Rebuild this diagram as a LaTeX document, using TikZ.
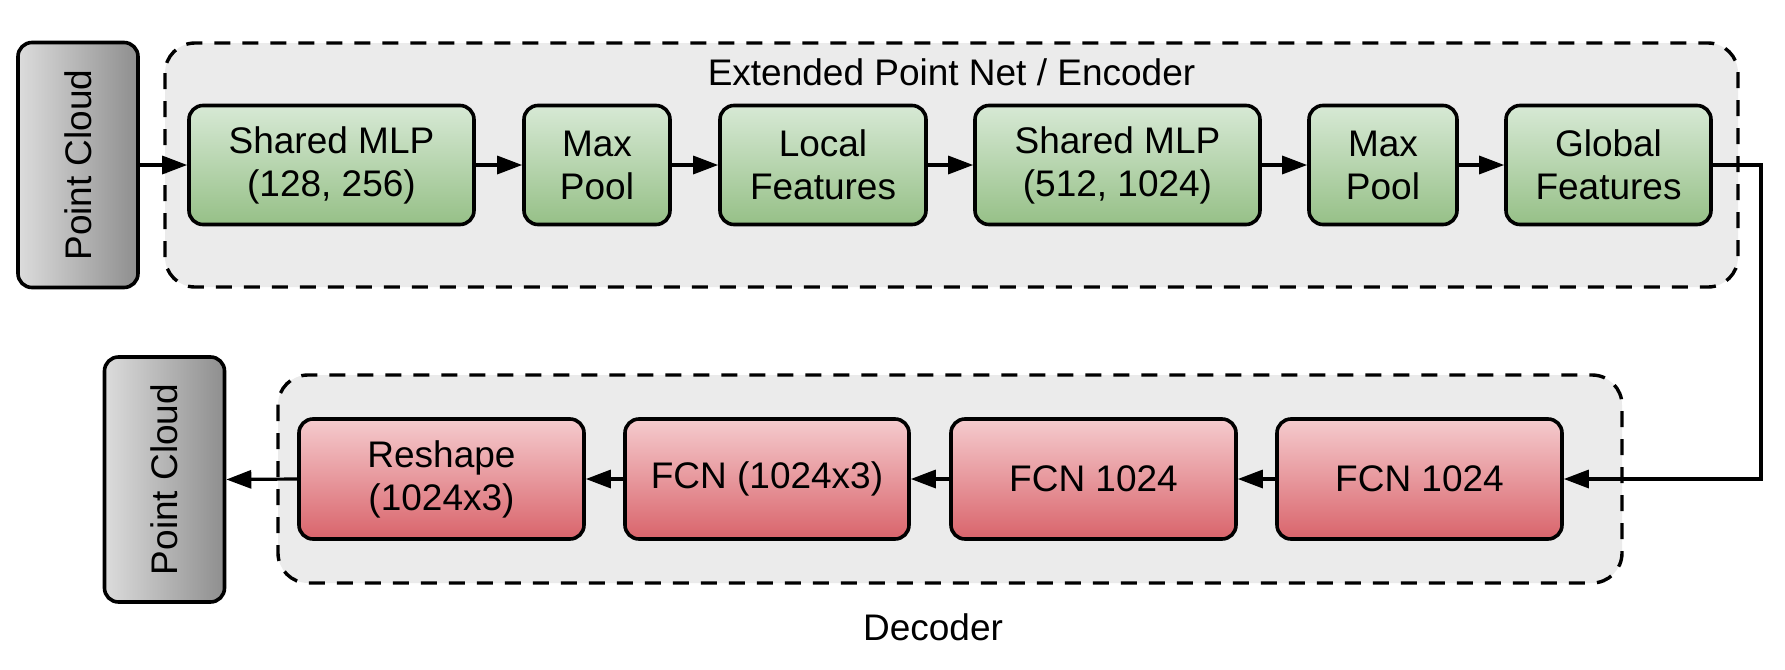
\documentclass[tikz,border=0pt]{standalone}
\usepackage{fontspec}
\setmainfont{Liberation Sans}
\usetikzlibrary{arrows.meta}
\definecolor{gtop}{HTML}{D7E9D5}
\definecolor{gbot}{HTML}{96C087}
\definecolor{rtop}{HTML}{F5CBCE}
\definecolor{rbot}{HTML}{D9646B}
\definecolor{pleft}{HTML}{DCDCDC}
\definecolor{pright}{HTML}{8E8E8E}
\definecolor{grpfill}{HTML}{EBEBEB}
\begin{document}
\begin{tikzpicture}[x=0.5pt,y=-0.5pt,
  txt/.style={font=\fontsize{18.5pt}{21.5pt}\selectfont, text=black},
  box/.style={txt, draw=black, line width=1.8pt, rounded corners=7pt, align=center,
    minimum height=59.5pt, inner sep=0pt},
  gbox/.style={box, top color=gtop, bottom color=gbot},
  rbox/.style={box, top color=rtop, bottom color=rbot, minimum height=60pt},
  pcbox/.style={draw=black, line width=1.8pt, rounded corners=7pt, left color=pleft,
    right color=pright, minimum width=60pt, minimum height=122.5pt, inner sep=0pt},
  grp/.style={draw=black, fill=grpfill, line width=1.7pt, dash pattern=on 8pt off 6pt,
    rounded corners=15pt},
  arr/.style={draw=black, line width=1.6pt, -{Triangle[length=12.5pt,width=9pt]}},
]
\useasboundingbox (0,0) rectangle (1785,670);
% groups
\draw[grp] (165,43) rectangle (1738,287);
\draw[grp] (278,375) rectangle (1622,583);
\node[txt, anchor=base] (enclabel) at (951.5,85) {Extended Point Net / Encoder};
\node[txt, anchor=base] (declabel) at (933,640) {Decoder};
% point clouds
\node[pcbox] (pc1) at (78,165) {};
\node[txt, rotate=90] (pc1t) at (pc1.center) {Point Cloud};
\node[pcbox] (pc2) at (164.5,479.5) {};
\node[txt, rotate=90] (pc2t) at (pc2.center) {Point Cloud};
% encoder boxes
\node[gbox, minimum width=142.5pt] (g1) at (331.5,165) {Shared MLP\\(128, 256)};
\node[gbox, minimum width=73pt] (g2) at (597,165) {Max\\Pool};
\node[gbox, minimum width=103pt] (g3) at (823,165) {Local\\Features};
\node[gbox, minimum width=142.5pt] (g4) at (1117.5,165) {Shared MLP\\(512, 1024)};
\node[gbox, minimum width=74pt] (g5) at (1383,165) {Max\\Pool};
\node[gbox, minimum width=102.5pt] (g6) at (1608.5,165) {Global\\Features};
% decoder boxes
\node[rbox, minimum width=142.5pt] (r1) at (441.5,479) {Reshape\\(1024x3)};
\node[rbox, minimum width=142pt] (r2) at (767,479) {FCN (1024x3)};
\node[rbox, minimum width=142.5pt] (r3) at (1093.5,479) {FCN 1024};
\node[rbox, minimum width=142.5pt] (r4) at (1419.5,479) {FCN 1024};
% connectors
\draw[arr] (pc1.east) -- (g1.west);
\draw[arr] (g1) -- (g2);
\draw[arr] (g2) -- (g3);
\draw[arr] (g3) -- (g4);
\draw[arr] (g4) -- (g5);
\draw[arr] (g5) -- (g6);
\coordinate (turn) at (1761,320);
\draw[arr] (g6.east) -| (turn) |- (r4.east);
\draw[arr] (r4) -- (r3);
\draw[arr] (r3) -- (r2);
\draw[arr] (r2) -- (r1);
\draw[arr] (r1.west) -- (pc2.east);
\end{tikzpicture}
\end{document}
